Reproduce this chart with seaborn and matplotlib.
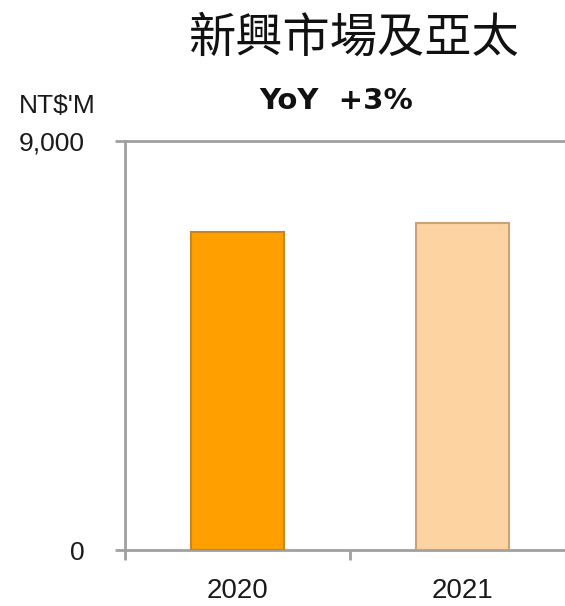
import numpy as np
import pandas as pd
import seaborn as sns
import matplotlib.pyplot as plt
from matplotlib.ticker import FixedLocator

# data (NT$ million)
years = ["2020", "2021"]
revenue = [7000, 7200]
bar_colors = ["#FFA000", "#FDD3A2"]
edge_colors = ["#C8871E", "#C9A27A"]

title = "新興市場及亞太"
subtitle = "YoY  +3%"
unit_label = "NT$'M"
y_max = 9000

sns.set_theme(style="white")
plt.rcParams['font.family'] = ['Liberation Sans', 'DejaVu Sans']

df = pd.DataFrame({"year": years, "revenue": revenue})

fig = plt.figure(figsize=(5.65, 6.06), dpi=100)
ax = fig.add_axes([125/565, 56/606, 450/565, 409/606])

sns.barplot(data=df, x="year", y="revenue", hue="year", palette=bar_colors,
            saturation=1, legend=False, width=0.41, ax=ax, zorder=3)

for bar, ec in zip(ax.patches, edge_colors):
    bar.set_edgecolor(ec)
    bar.set_linewidth(1.5)

ax.set_xlim(-0.5, 1.5)
ax.set_ylim(0, y_max)
ax.set_xlabel("")
ax.set_ylabel("")

# axes look
axis_col = "#A0A0A0"
for side in ["top", "right"]:
    ax.spines[side].set_visible(False)
for side in ["left", "bottom"]:
    ax.spines[side].set_color(axis_col)
    ax.spines[side].set_linewidth(2)
ax.axhline(y_max, color=axis_col, lw=2, zorder=1, clip_on=False)

ax.set_yticks([0, y_max])
ax.set_yticklabels(["0", "9,000"])
ax.tick_params(axis="y", length=7, width=2, color=axis_col, pad=22,
               labelsize=19, labelcolor="#1a1a1a", left=True)

ax.set_xticks([0, 1])
ax.set_xticklabels(years)
ax.xaxis.set_minor_locator(FixedLocator([-0.5, 0.5, 1.5]))
ax.tick_params(axis="x", which="major", length=0, pad=20,
               labelsize=20, labelcolor="#1a1a1a")
ax.tick_params(axis="x", which="minor", length=7, width=2, color=axis_col,
               bottom=True)

fig.text(57/565, 1 - 106/606, unit_label, ha="center", va="center",
         fontsize=19, color="#1a1a1a")
fig.text(354/565, 1 - 38/606, title, ha="center", va="center",
         fontsize=34, color="#111111",
         family=['Noto Sans CJK TC', 'DejaVu Sans'])
fig.text(336/565, 1 - 101/606, subtitle, ha="center", va="center",
         fontsize=21, fontweight="bold", color="#111111",
         family=['DejaVu Sans'])

fig.savefig("out.png", dpi=100)
